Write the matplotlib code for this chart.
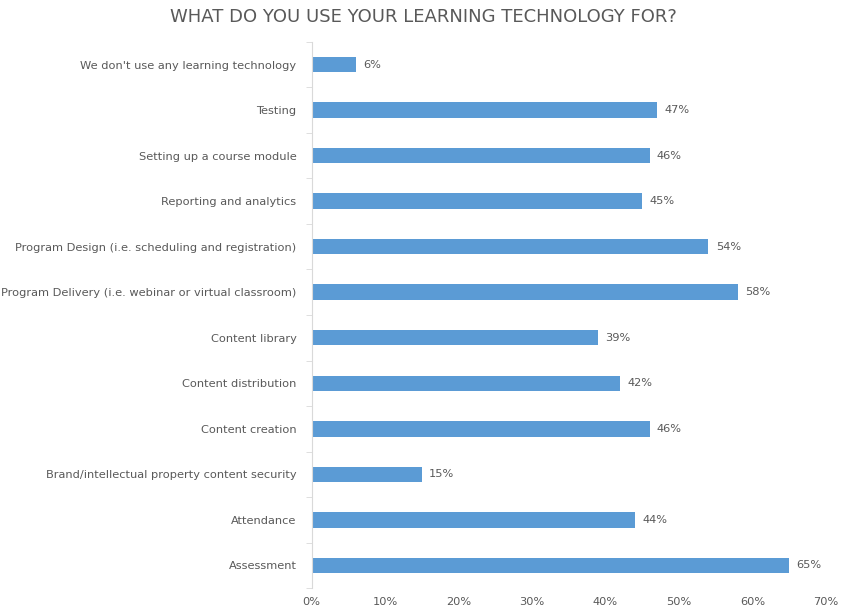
import matplotlib.pyplot as plt
from matplotlib.ticker import FuncFormatter, FixedLocator

# categories listed bottom to top
categories = [
    "Assessment",
    "Attendance",
    "Brand/intellectual property content security",
    "Content creation",
    "Content distribution",
    "Content library",
    "Program Delivery (i.e. webinar or virtual classroom)",
    "Program Design (i.e. scheduling and registration)",
    "Reporting and analytics",
    "Setting up a course module",
    "Testing",
    "We don't use any learning technology",
]
values = [65, 44, 15, 46, 42, 39, 58, 54, 45, 46, 47, 6]

bar_color = "#5B9BD5"
text_color = "#595959"

fig = plt.figure(figsize=(8.47, 6.14), dpi=100)
ax = fig.add_axes([0.368, 0.042, 0.607, 0.890])

ypos = list(range(len(categories)))
ax.barh(ypos, values, height=0.34, color=bar_color)

for y, v in zip(ypos, values):
    ax.text(v + 1.0, y, "%d%%" % v, va="center", ha="left",
            fontsize=8.2, color=text_color)

ax.set_xlim(0, 70)
ax.set_ylim(-0.5, len(categories) - 0.5)
ax.set_xticks(range(0, 71, 10))
ax.xaxis.set_major_formatter(FuncFormatter(lambda x, p: "%d%%" % x))
ax.set_yticks(ypos)
ax.set_yticklabels(categories)
ax.yaxis.set_minor_locator(FixedLocator([i - 0.5 for i in range(len(categories) + 1)]))

ax.tick_params(axis="x", length=0, labelsize=8.2, labelcolor=text_color, pad=6)
ax.tick_params(axis="y", which="major", length=0, labelsize=8.2,
               labelcolor=text_color, pad=11)
ax.tick_params(axis="y", which="minor", length=4, color="#D9D9D9")

for s in ["top", "right", "bottom"]:
    ax.spines[s].set_visible(False)
ax.spines["left"].set_color("#D9D9D9")

fig.text(0.5, 0.972, "WHAT DO YOU USE YOUR LEARNING TECHNOLOGY FOR?",
         ha="center", va="center", fontsize=13, color=text_color)

fig.savefig("out.png", dpi=100)
